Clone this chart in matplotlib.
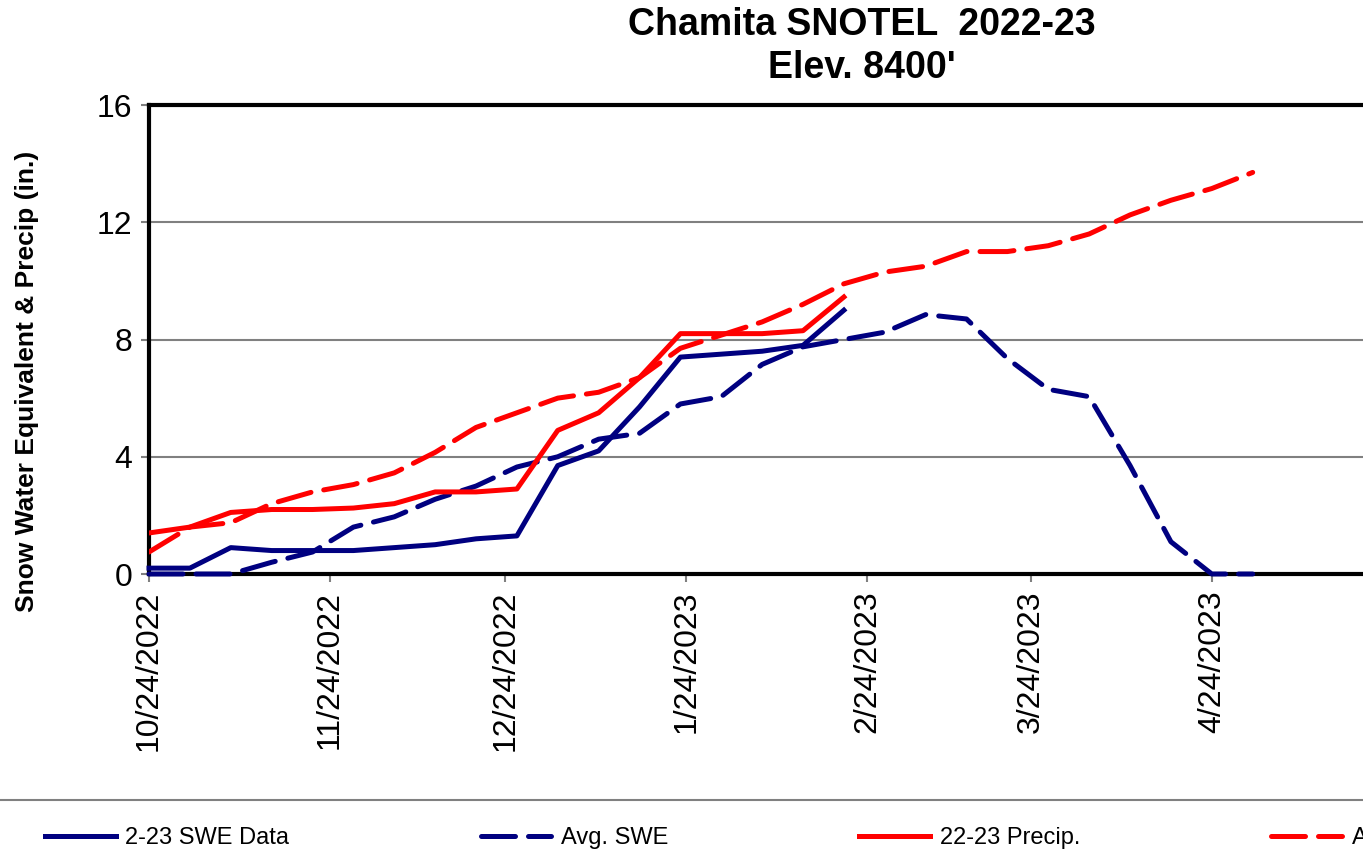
import matplotlib
matplotlib.use('Agg')
import matplotlib.pyplot as plt
from matplotlib.lines import Line2D
import pandas as pd

plt.rcParams['font.family'] = ['Liberation Sans', 'DejaVu Sans']

# weekly readings
week_dates = ['2022-10-24', '2022-10-31', '2022-11-07', '2022-11-14', '2022-11-21',
              '2022-11-28', '2022-12-05', '2022-12-12', '2022-12-19', '2022-12-26',
              '2023-01-02', '2023-01-09', '2023-01-16', '2023-01-23', '2023-01-30',
              '2023-02-06', '2023-02-13', '2023-02-20', '2023-02-27', '2023-03-06',
              '2023-03-13', '2023-03-20', '2023-03-27', '2023-04-03', '2023-04-10',
              '2023-04-17', '2023-04-24', '2023-05-01']

swe_data = [0.2, 0.2, 0.9, 0.8, 0.8, 0.8, 0.9, 1.0, 1.2, 1.3, 3.7, 4.2, 5.7, 7.4,
            7.5, 7.6, 7.8, 9.0]
precip = [1.4, 1.6, 2.1, 2.2, 2.2, 2.25, 2.4, 2.8, 2.8, 2.9, 4.9, 5.5, 6.7, 8.2,
          8.2, 8.2, 8.3, 9.45]
avg_swe = [0, 0, 0, 0.4, 0.75, 1.6, 1.95, 2.55, 3.0, 3.65, 4.0, 4.6, 4.8, 5.8,
           6.05, 7.15, 7.75, 8.0, 8.25, 8.85, 8.7, 7.35, 6.3, 6.05, 3.7, 1.1, 0, 0]
avg_precip = [0.75, 1.6, 1.75, 2.4, 2.8, 3.05, 3.45, 4.15, 5.0, 5.5, 6.0, 6.2, 6.7,
              7.7, 8.15, 8.6, 9.2, 9.9, 10.3, 10.5, 11.0, 11.0, 11.2, 11.6, 12.25,
              12.75, 13.15, 13.7]

# visible month ticks (axis itself runs on to 6/24/2023, past the crop)
tick_dates = ['2022-10-24', '2022-11-24', '2022-12-24', '2023-01-24', '2023-02-24',
              '2023-03-24', '2023-04-24']
tick_labels = ['10/24/2022', '11/24/2022', '12/24/2022', '1/24/2023', '2/24/2023',
               '3/24/2023', '4/24/2023']
x_end = '2023-06-24'

labels = ['2-23 SWE Data', 'Avg. SWE', '22-23 Precip.', 'Avg. Precip.']


def main():
    W, H = 1363, 856
    fig = plt.figure(figsize=(W / 100, H / 100), dpi=100)
    # plot area runs past the right edge (chart is cropped)
    ax = fig.add_axes([149 / W, 1 - 574 / H, (1568 - 149) / W, (574 - 105) / H])

    d = pd.to_datetime(week_dates)
    n = len(swe_data)
    dash = (0, (6.8, 2.6))
    lw = 3.6

    l1, = ax.plot(d[:n], swe_data, color='#000080', lw=lw, solid_joinstyle='round',
                  zorder=4, clip_on=False)
    l2, = ax.plot(d, avg_swe, color='#000080', lw=lw, linestyle=dash,
                  dash_capstyle='round', zorder=4, clip_on=False)
    l3, = ax.plot(d[:n], precip, color='#ff0000', lw=lw, solid_joinstyle='round', zorder=4)
    l4, = ax.plot(d, avg_precip, color='#ff0000', lw=lw, linestyle=dash,
                  dash_capstyle='round', zorder=4)

    ax.set_xlim(pd.Timestamp(tick_dates[0]), pd.Timestamp(x_end))
    ax.set_xticks(pd.to_datetime(tick_dates), labels=tick_labels, rotation=90)
    ax.set_ylim(0, 16)
    ax.set_yticks([0, 4, 8, 12, 16])

    ax.grid(axis='y', color='#808080', lw=1.5)
    ax.set_axisbelow(True)
    for s in ['left', 'top', 'bottom', 'right']:
        ax.spines[s].set_linewidth(3)
        ax.spines[s].set_color('black')
    ax.tick_params(axis='both', labelsize=23, length=6, width=1.5, color='#808080', pad=6)

    fig.text(27 / W, 1 - 381 / H, 'Snow Water Equivalent & Precip (in.)', rotation=90,
             ha='center', va='center', fontsize=19, fontweight='bold')

    # tytul
    fig.text(862 / W, 1 - 25 / H, 'Chamita SNOTEL  2022-23', ha='center', va='center',
             fontsize=27, fontweight='bold')
    fig.text(862 / W, 1 - 68 / H, "Elev. 8400'", ha='center', va='center',
             fontsize=27, fontweight='bold')

    # legenda (cut off on the right like the source)
    fig.add_artist(Line2D([0, 1], [1 - 800 / H] * 2, transform=fig.transFigure,
                          color='#808080', lw=1.5))
    fig.legend([l1, l2, l3, l4], labels, ncol=4, loc='center left',
               bbox_to_anchor=(45 / W, 1 - 838 / H), frameon=False, fontsize=17,
               handlelength=3.0, handletextpad=0.4, columnspacing=8.1,
               borderpad=0, borderaxespad=0)

    fig.savefig('out.png', dpi=100)


if __name__ == '__main__':
    main()
